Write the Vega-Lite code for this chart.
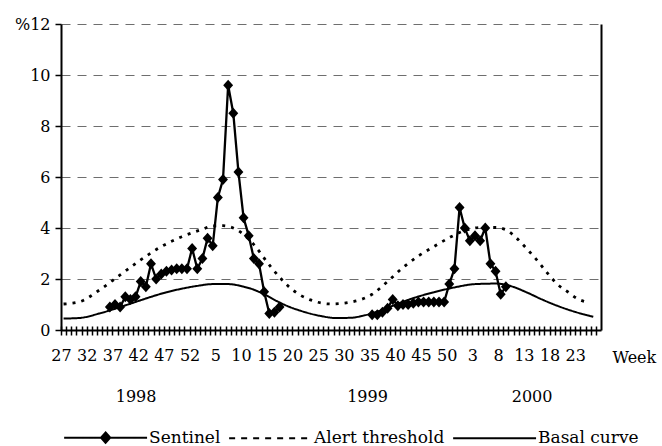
{
  "$schema": "https://vega.github.io/schema/vega-lite/v6.json",
  "width": 540,
  "height": 306,
  "autosize": {"type": "none"},
  "padding": {"left": 61, "top": 24, "right": 61, "bottom": 116},
  "background": "white",
  "config": {
    "font": "DejaVu Serif",
    "view": {"stroke": null},
    "axis": {
      "labelFont": "DejaVu Serif, Liberation Serif, serif",
      "labelFontSize": 16,
      "labelColor": "black",
      "domainColor": "black",
      "domainWidth": 2,
      "tickColor": "black",
      "tickWidth": 1.5,
      "titleFont": "DejaVu Serif, Liberation Serif, serif",
      "titleFontSize": 16,
      "titleFontWeight": "normal",
      "titleColor": "black",
      "labelOverlap": false,
      "labelFlush": false,
      "labelBound": false
    }
  },
  "data": {
    "values": [
      {"s": "Basal curve", "g": "b", "i": 0, "v": 0.45},
      {"s": "Basal curve", "g": "b", "i": 3, "v": 0.47},
      {"s": "Basal curve", "g": "b", "i": 7, "v": 0.65},
      {"s": "Basal curve", "g": "b", "i": 11, "v": 0.9},
      {"s": "Basal curve", "g": "b", "i": 14, "v": 1.1},
      {"s": "Basal curve", "g": "b", "i": 17, "v": 1.3},
      {"s": "Basal curve", "g": "b", "i": 20, "v": 1.48},
      {"s": "Basal curve", "g": "b", "i": 23, "v": 1.62},
      {"s": "Basal curve", "g": "b", "i": 26, "v": 1.73},
      {"s": "Basal curve", "g": "b", "i": 29, "v": 1.8},
      {"s": "Basal curve", "g": "b", "i": 32, "v": 1.8},
      {"s": "Basal curve", "g": "b", "i": 35, "v": 1.7},
      {"s": "Basal curve", "g": "b", "i": 37, "v": 1.58},
      {"s": "Basal curve", "g": "b", "i": 39, "v": 1.4},
      {"s": "Basal curve", "g": "b", "i": 42, "v": 1.08},
      {"s": "Basal curve", "g": "b", "i": 44, "v": 0.9},
      {"s": "Basal curve", "g": "b", "i": 46, "v": 0.76},
      {"s": "Basal curve", "g": "b", "i": 48, "v": 0.64},
      {"s": "Basal curve", "g": "b", "i": 50, "v": 0.55},
      {"s": "Basal curve", "g": "b", "i": 53, "v": 0.47},
      {"s": "Basal curve", "g": "b", "i": 56, "v": 0.48},
      {"s": "Basal curve", "g": "b", "i": 58, "v": 0.55},
      {"s": "Basal curve", "g": "b", "i": 61, "v": 0.72},
      {"s": "Basal curve", "g": "b", "i": 64, "v": 0.95},
      {"s": "Basal curve", "g": "b", "i": 68, "v": 1.25},
      {"s": "Basal curve", "g": "b", "i": 72, "v": 1.48},
      {"s": "Basal curve", "g": "b", "i": 76, "v": 1.67},
      {"s": "Basal curve", "g": "b", "i": 80, "v": 1.8},
      {"s": "Basal curve", "g": "b", "i": 84, "v": 1.82},
      {"s": "Basal curve", "g": "b", "i": 87, "v": 1.72},
      {"s": "Basal curve", "g": "b", "i": 90, "v": 1.48},
      {"s": "Basal curve", "g": "b", "i": 93, "v": 1.2},
      {"s": "Basal curve", "g": "b", "i": 96, "v": 0.95},
      {"s": "Basal curve", "g": "b", "i": 99, "v": 0.74},
      {"s": "Basal curve", "g": "b", "i": 103, "v": 0.52},

      {"s": "Alert threshold", "g": "a", "i": 0, "v": 1.02},
      {"s": "Alert threshold", "g": "a", "i": 3, "v": 1.1},
      {"s": "Alert threshold", "g": "a", "i": 7, "v": 1.57},
      {"s": "Alert threshold", "g": "a", "i": 11, "v": 2.16},
      {"s": "Alert threshold", "g": "a", "i": 15, "v": 2.75},
      {"s": "Alert threshold", "g": "a", "i": 19, "v": 3.27},
      {"s": "Alert threshold", "g": "a", "i": 23, "v": 3.66},
      {"s": "Alert threshold", "g": "a", "i": 27, "v": 3.95},
      {"s": "Alert threshold", "g": "a", "i": 29, "v": 4.08},
      {"s": "Alert threshold", "g": "a", "i": 31, "v": 4.09},
      {"s": "Alert threshold", "g": "a", "i": 33, "v": 4.0},
      {"s": "Alert threshold", "g": "a", "i": 35, "v": 3.75},
      {"s": "Alert threshold", "g": "a", "i": 37, "v": 3.35},
      {"s": "Alert threshold", "g": "a", "i": 40, "v": 2.55},
      {"s": "Alert threshold", "g": "a", "i": 42, "v": 2.07},
      {"s": "Alert threshold", "g": "a", "i": 44, "v": 1.66},
      {"s": "Alert threshold", "g": "a", "i": 46, "v": 1.37},
      {"s": "Alert threshold", "g": "a", "i": 48, "v": 1.18},
      {"s": "Alert threshold", "g": "a", "i": 52, "v": 1.02},
      {"s": "Alert threshold", "g": "a", "i": 56, "v": 1.1},
      {"s": "Alert threshold", "g": "a", "i": 60, "v": 1.4},
      {"s": "Alert threshold", "g": "a", "i": 63, "v": 1.9},
      {"s": "Alert threshold", "g": "a", "i": 66, "v": 2.45},
      {"s": "Alert threshold", "g": "a", "i": 69, "v": 2.9},
      {"s": "Alert threshold", "g": "a", "i": 72, "v": 3.27},
      {"s": "Alert threshold", "g": "a", "i": 75, "v": 3.62},
      {"s": "Alert threshold", "g": "a", "i": 78, "v": 3.9},
      {"s": "Alert threshold", "g": "a", "i": 81, "v": 4.02},
      {"s": "Alert threshold", "g": "a", "i": 84, "v": 4.02},
      {"s": "Alert threshold", "g": "a", "i": 86, "v": 3.93},
      {"s": "Alert threshold", "g": "a", "i": 88, "v": 3.62},
      {"s": "Alert threshold", "g": "a", "i": 90, "v": 3.2},
      {"s": "Alert threshold", "g": "a", "i": 92, "v": 2.75},
      {"s": "Alert threshold", "g": "a", "i": 94, "v": 2.25},
      {"s": "Alert threshold", "g": "a", "i": 96, "v": 1.8},
      {"s": "Alert threshold", "g": "a", "i": 98, "v": 1.5},
      {"s": "Alert threshold", "g": "a", "i": 100, "v": 1.22},
      {"s": "Alert threshold", "g": "a", "i": 102, "v": 1.08},

      {"s": "Sentinel", "g": "s1", "i": 9, "v": 0.9},
      {"s": "Sentinel", "g": "s1", "i": 10, "v": 1.0},
      {"s": "Sentinel", "g": "s1", "i": 11, "v": 0.9},
      {"s": "Sentinel", "g": "s1", "i": 12, "v": 1.3},
      {"s": "Sentinel", "g": "s1", "i": 13, "v": 1.2},
      {"s": "Sentinel", "g": "s1", "i": 14, "v": 1.3},
      {"s": "Sentinel", "g": "s1", "i": 15, "v": 1.9},
      {"s": "Sentinel", "g": "s1", "i": 16, "v": 1.7},
      {"s": "Sentinel", "g": "s1", "i": 17, "v": 2.6},
      {"s": "Sentinel", "g": "s1", "i": 18, "v": 2.0},
      {"s": "Sentinel", "g": "s1", "i": 19, "v": 2.2},
      {"s": "Sentinel", "g": "s1", "i": 20, "v": 2.3},
      {"s": "Sentinel", "g": "s1", "i": 21, "v": 2.35},
      {"s": "Sentinel", "g": "s1", "i": 22, "v": 2.4},
      {"s": "Sentinel", "g": "s1", "i": 23, "v": 2.4},
      {"s": "Sentinel", "g": "s1", "i": 24, "v": 2.4},
      {"s": "Sentinel", "g": "s1", "i": 25, "v": 3.2},
      {"s": "Sentinel", "g": "s1", "i": 26, "v": 2.4},
      {"s": "Sentinel", "g": "s1", "i": 27, "v": 2.8},
      {"s": "Sentinel", "g": "s1", "i": 28, "v": 3.6},
      {"s": "Sentinel", "g": "s1", "i": 29, "v": 3.3},
      {"s": "Sentinel", "g": "s1", "i": 30, "v": 5.2},
      {"s": "Sentinel", "g": "s1", "i": 31, "v": 5.9},
      {"s": "Sentinel", "g": "s1", "i": 32, "v": 9.6},
      {"s": "Sentinel", "g": "s1", "i": 33, "v": 8.5},
      {"s": "Sentinel", "g": "s1", "i": 34, "v": 6.2},
      {"s": "Sentinel", "g": "s1", "i": 35, "v": 4.4},
      {"s": "Sentinel", "g": "s1", "i": 36, "v": 3.7},
      {"s": "Sentinel", "g": "s1", "i": 37, "v": 2.8},
      {"s": "Sentinel", "g": "s1", "i": 38, "v": 2.6},
      {"s": "Sentinel", "g": "s1", "i": 39, "v": 1.5},
      {"s": "Sentinel", "g": "s1", "i": 40, "v": 0.65},
      {"s": "Sentinel", "g": "s1", "i": 41, "v": 0.7},
      {"s": "Sentinel", "g": "s1", "i": 42, "v": 0.9},

      {"s": "Sentinel", "g": "s2", "i": 60, "v": 0.6},
      {"s": "Sentinel", "g": "s2", "i": 61, "v": 0.6},
      {"s": "Sentinel", "g": "s2", "i": 62, "v": 0.7},
      {"s": "Sentinel", "g": "s2", "i": 63, "v": 0.85},
      {"s": "Sentinel", "g": "s2", "i": 64, "v": 1.2},
      {"s": "Sentinel", "g": "s2", "i": 65, "v": 0.95},
      {"s": "Sentinel", "g": "s2", "i": 66, "v": 1.0},
      {"s": "Sentinel", "g": "s2", "i": 67, "v": 1.0},
      {"s": "Sentinel", "g": "s2", "i": 68, "v": 1.05},
      {"s": "Sentinel", "g": "s2", "i": 69, "v": 1.1},
      {"s": "Sentinel", "g": "s2", "i": 70, "v": 1.1},
      {"s": "Sentinel", "g": "s2", "i": 71, "v": 1.1},
      {"s": "Sentinel", "g": "s2", "i": 72, "v": 1.1},
      {"s": "Sentinel", "g": "s2", "i": 73, "v": 1.1},
      {"s": "Sentinel", "g": "s2", "i": 74, "v": 1.1},
      {"s": "Sentinel", "g": "s2", "i": 75, "v": 1.8},
      {"s": "Sentinel", "g": "s2", "i": 76, "v": 2.4},
      {"s": "Sentinel", "g": "s2", "i": 77, "v": 4.8},
      {"s": "Sentinel", "g": "s2", "i": 78, "v": 4.0},
      {"s": "Sentinel", "g": "s2", "i": 79, "v": 3.5},
      {"s": "Sentinel", "g": "s2", "i": 80, "v": 3.7},
      {"s": "Sentinel", "g": "s2", "i": 81, "v": 3.5},
      {"s": "Sentinel", "g": "s2", "i": 82, "v": 4.0},
      {"s": "Sentinel", "g": "s2", "i": 83, "v": 2.6},
      {"s": "Sentinel", "g": "s2", "i": 84, "v": 2.3},
      {"s": "Sentinel", "g": "s2", "i": 85, "v": 1.4},
      {"s": "Sentinel", "g": "s2", "i": 86, "v": 1.7}
    ]
  },
  "layer": [
    {
      "transform": [{"filter": "datum.s === 'Basal curve'"}],
      "mark": {"type": "line", "interpolate": "monotone", "color": "black", "strokeWidth": 2},
      "encoding": {
        "x": {
          "field": "i", "type": "quantitative",
          "scale": {"domain": [-0.5, 104.5], "nice": false, "zero": false},
          "axis": {
            "orient": "bottom",
            "values": [0,1,2,3,4,5,6,7,8,9,10,11,12,13,14,15,16,17,18,19,20,21,22,23,24,25,26,27,28,29,30,31,32,33,34,35,36,37,38,39,40,41,42,43,44,45,46,47,48,49,50,51,52,53,54,55,56,57,58,59,60,61,62,63,64,65,66,67,68,69,70,71,72,73,74,75,76,77,78,79,80,81,82,83,84,85,86,87,88,89,90,91,92,93,94,95,96,97,98,99,100,101,102,103,104,105],
            "tickOffset": -2.571,
            "tickSize": 5,
            "labelPadding": 12,
            "labelExpr": "datum.value % 5 == 0 && datum.value <= 100 ? '' + (datum.value < 26 ? datum.value + 27 : datum.value < 78 ? datum.value - 25 : datum.value - 77) : ''",
            "grid": false,
            "title": "Week",
            "titleX": 551,
            "titleY": 32.5,
            "titleAlign": "left",
            "titleBaseline": "alphabetic",
            "titleAngle": 0
          }
        },
        "y": {
          "field": "v", "type": "quantitative",
          "scale": {"domain": [0, 12], "nice": false, "zero": true},
          "axis": {
            "values": [0, 2, 4, 6, 8, 10, 12],
            "tickSize": 6,
            "labelPadding": 5,
            "labelExpr": "datum.value == 12 ? '%12' : datum.label",
            "grid": true,
            "gridColor": "#6e6e6e",
            "gridWidth": 1.2,
            "gridDash": [9, 7],
            "title": null
          }
        },
        "strokeDash": {
          "field": "s", "type": "nominal",
          "scale": {"domain": ["Sentinel", "Alert threshold", "Basal curve"], "range": [[1, 0], [6, 6], [1, 0]]},
          "legend": {
            "orient": "none",
            "legendX": 2,
            "legendY": 402,
            "direction": "horizontal",
            "title": null,
            "padding": 0,
            "symbolType": "M-1,0H7",
            "symbolSize": 430,
            "symbolStrokeWidth": 2,
            "symbolStrokeColor": "black",
            "labelOffset": 63,
            "labelFont": "DejaVu Serif, Liberation Serif, serif",
            "labelFontSize": 17,
            "labelColor": "black",
            "columnPadding": 4,
            "encode": {
              "symbols": {
                "update": {
                  "shape": {"signal": "datum.value === 'Sentinel' ? 'M-1,0H7M3,-0.5L3.45,0L3,0.5L2.55,0Z' : 'M-1,0H7'"},
                  "fill": {"signal": "datum.value === 'Sentinel' ? 'black' : 'transparent'"},
                  "stroke": {"value": "black"},
                  "strokeWidth": {"value": 2},
                  "opacity": {"value": 1}
                }
              }
            }
          }
        }
      }
    },
    {
      "transform": [{"filter": "datum.s === 'Alert threshold'"}],
      "mark": {"type": "line", "interpolate": "monotone", "color": "black", "strokeWidth": 2.8, "strokeDash": [3, 6]},
      "encoding": {
        "x": {
          "field": "i", "type": "quantitative",
          "axis": {
            "orient": "bottom",
            "values": [0,1,2,3,4,5,6,7,8,9,10,11,12,13,14,15,16,17,18,19,20,21,22,23,24,25,26,27,28,29,30,31,32,33,34,35,36,37,38,39,40,41,42,43,44,45,46,47,48,49,50,51,52,53,54,55,56,57,58,59,60,61,62,63,64,65,66,67,68,69,70,71,72,73,74,75,76,77,78,79,80,81,82,83,84,85,86,87,88,89,90,91,92,93,94,95,96,97,98,99,100,101,102,103,104,105],
            "tickOffset": -2.571,
            "offset": -4,
            "tickSize": 4,
            "labels": false,
            "domain": false,
            "grid": false,
            "title": null
          }
        },
        "y": {
          "field": "v", "type": "quantitative",
          "axis": {"orient": "right", "domain": true, "ticks": false, "labels": false, "grid": false, "title": null}
        }
      }
    },
    {
      "transform": [{"filter": "datum.s === 'Sentinel'"}],
      "mark": {"type": "line", "color": "black", "strokeWidth": 2.3},
      "encoding": {
        "x": {
          "field": "i", "type": "quantitative",
          "axis": {
            "orient": "bottom",
            "values": [14, 59, 91],
            "labelExpr": "datum.value == 14 ? '1998' : datum.value == 59 ? '1999' : '2000'",
            "ticks": false,
            "domain": false,
            "grid": false,
            "labelPadding": 58,
            "title": null
          }
        },
        "y": {"field": "v", "type": "quantitative", "axis": null},
        "detail": {"field": "g"}
      }
    },
    {
      "transform": [{"filter": "datum.s === 'Sentinel'"}],
      "mark": {"type": "point", "shape": "M0,-1L0.9,0L0,1L-0.9,0Z", "size": 121, "filled": true, "color": "black", "opacity": 1},
      "encoding": {
        "x": {"field": "i", "type": "quantitative", "axis": null},
        "y": {"field": "v", "type": "quantitative", "axis": null}
      }
    }
  ],
  "resolve": {"axis": {"x": "independent", "y": "independent"}}
}
